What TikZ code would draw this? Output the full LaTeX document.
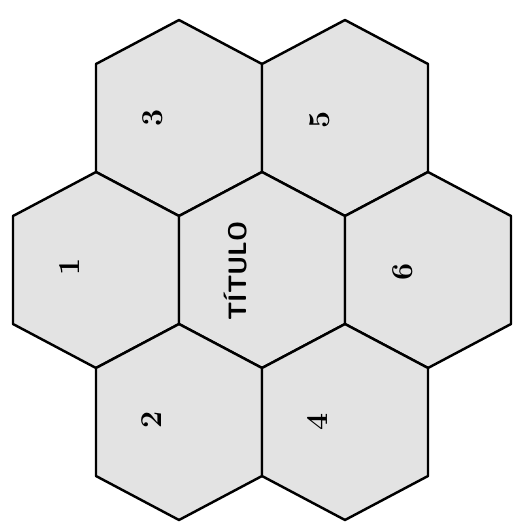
\documentclass[tikz,border=0pt]{standalone}

\tikzset{
  hexcell/.style={draw=black, line width=1.4pt, line join=round, fill=black!11},
  cellnum/.style={rotate=90, font=\LARGE\bfseries},
  celltitle/.style={rotate=90, font=\sffamily\bfseries\Large}
}

\begin{document}
\begin{tikzpicture}[x=0.02cm, y=-0.02cm]

% Page frame
\useasboundingbox (0,0) rectangle (512,528);

% Seven hexagon cells (centre x/y)
\foreach \cx/\cy in {179/118, 345/118, 96/270, 262/270, 428/270, 179/422, 345/422} {
  \draw[hexcell] (\cx,\cy) +(0,-98) -- +(-83,-54) -- +(-83,54) -- +(0,98)
    -- +(83,54) -- +(83,-54) -- cycle;
}

% Labels
\node[cellnum] (lbl3) at (153,118) {3};
\node[cellnum] (lbl5) at (320,120) {5};
\node[cellnum] (lbl1) at (70,267) {1};
\node[celltitle] (lbltitle) at (236,271) {TÍTULO};
\node[cellnum] (lbl6) at (403,272) {6};
\node[cellnum] (lbl2) at (152,420) {2};
\node[cellnum] (lbl4) at (318,422) {4};

\end{tikzpicture}
\end{document}
